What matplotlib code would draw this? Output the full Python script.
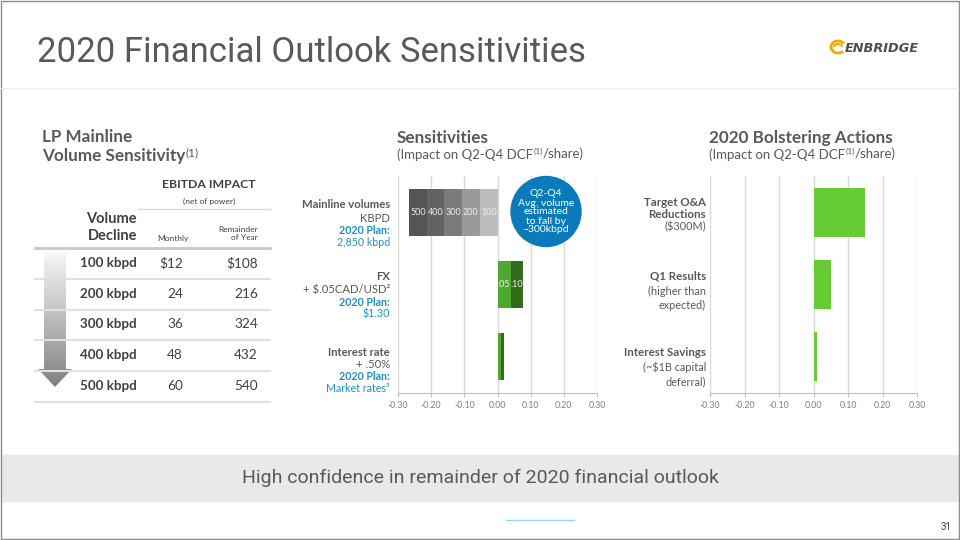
import matplotlib
matplotlib.use("Agg")
import matplotlib.pyplot as plt
import numpy as np
from matplotlib.patches import Rectangle, Circle, Polygon, Arc

# ---- data ----
table_volumes = ["100 kbpd", "200 kbpd", "300 kbpd", "400 kbpd", "500 kbpd"]
table_monthly = ["$12", "24", "36", "48", "60"]
table_remainder = ["$108", "216", "324", "432", "540"]

mainline_kbpd = [100, 200, 300, 400, 500]
mainline_impact = [-0.053, -0.107, -0.16, -0.213, -0.267]
mainline_colors = ["#bdbdbd", "#9a9a9a", "#7b7b7b", "#636363", "#555555"]

fx_labels = [".05", ".10"]
fx_impact = [0.04, 0.078]
rate_impact = [0.01, 0.02]

bolster_cats = ["Target O&A", "Q1 Results", "Interest Savings"]
bolster_impact = [0.15, 0.05, 0.01]

ticks = [-0.3, -0.2, -0.1, 0.0, 0.1, 0.2, 0.3]

GREY = "#595959"
DARK = "#404040"
BLUE = "#1f8fd0"
BODY = ["Lato", "DejaVu Sans"]
NARROW = ["Roboto", "DejaVu Sans"]

fig = plt.figure(figsize=(9.6, 5.4), dpi=100)
fig.patch.set_facecolor("white")


def style_axis(ax):
    ax.set_xlim(-0.3, 0.3)
    ax.set_ylim(2.5, -0.5)
    ax.set_xticks(ticks)
    ax.set_xticklabels(["%.2f" % t for t in ticks], fontsize=6.3, color="#7f7f7f",
                       family=BODY)
    ax.tick_params(axis="x", length=3, color="#bfbfbf", pad=3)
    ax.set_yticks([])
    for s in ["top", "left", "right"]:
        ax.spines[s].set_visible(False)
    ax.spines["bottom"].set_color("#bfbfbf")
    ax.grid(axis="x", color="#d9d9d9", lw=1)
    ax.set_axisbelow(True)
    ax.patch.set_alpha(0)


# ---- middle chart: sensitivities ----
axm = fig.add_axes([398 / 960, 1 - 393 / 540, 199 / 960, 217 / 540])
style_axis(axm)
prev = 0.0
for v, imp, c in zip(mainline_kbpd, mainline_impact, mainline_colors):
    axm.barh(0, imp - prev, left=prev, height=0.65, color=c)
    axm.text((imp + prev) / 2, 0, str(v), ha="center", va="center",
             fontsize=6.5, color="#ececec", family=BODY)
    prev = imp
fx_colors = ["#4ea72e", "#336b1d"]
prev = 0.0
for lab, imp, c in zip(fx_labels, fx_impact, fx_colors):
    axm.barh(1, imp - prev, left=prev, height=0.65, color=c)
    axm.text((imp + prev) / 2, 1, lab, ha="center", va="center",
             fontsize=6.5, color="#f0f0f0", family=BODY)
    prev = imp
prev = 0.0
for imp, c in zip(rate_impact, fx_colors):
    axm.barh(2, imp - prev, left=prev, height=0.65, color=c)
    prev = imp

# ---- right chart: bolstering actions ----
axr = fig.add_axes([710 / 960, 1 - 393 / 540, 207 / 960, 217 / 540])
style_axis(axr)
axr.barh(range(len(bolster_cats)), bolster_impact, height=0.68, color="#66cc33")

# ---- overlay in pixel coordinates ----
ov = fig.add_axes([0, 0, 1, 1], zorder=5)
ov.set_xlim(0, 960)
ov.set_ylim(540, 0)
ov.axis("off")
ov.patch.set_alpha(0)


def T(x, y, s, size=9, color=GREY, ha="left", weight="normal", fam=BODY, **kw):
    return ov.text(x, y, s, fontsize=size, color=color, ha=ha, va="center",
                   fontweight=weight, family=fam, **kw)


def after(art, s, size, color=GREY, weight="normal", raise_=0.0):
    # text glued to the right edge of a previous text artist
    return ov.annotate(s, xy=(1, 0.5 + raise_), xycoords=art, va="center",
                       ha="left", fontsize=size, color=color,
                       fontweight=weight, family=BODY)


# frame
ov.add_patch(Rectangle((0.5, 0.5), 958, 538, fill=False, ec="#8c8c8c", lw=1))
ov.plot([1, 958], [88, 88], color="#eeeeee", lw=1)

# title + logo
T(37, 53, "2020 Financial Outlook Sensitivities", size=25, color=GREY,
  fam=NARROW)
ov.add_patch(Arc((838, 47), 14, 12, theta1=40, theta2=330, color="#f5a800", lw=2))
ov.add_patch(Arc((838, 47), 8, 6, theta1=180, theta2=360, color="#f5a800", lw=1.5))
T(845, 49, "ENBRIDGE", size=9.3, color="#4d4d4d", weight="bold", style="italic",
  fam=["DejaVu Sans"])

# ---- left table ----
T(42, 137, "LP Mainline", size=12.3, weight="bold")
t = T(42, 156, "Volume Sensitivity", size=12.3, weight="bold")
after(t, "(1)", 8.5, raise_=0.2)
T(209, 185, "EBITDA IMPACT", size=8.8, weight="bold", ha="center", color=DARK)
T(209, 201, "(net of power)", size=6, ha="center", color=DARK)
ov.plot([138, 270], [209, 209], color="#d9d9d9", lw=1)
T(137, 219, "Volume", size=10.5, weight="bold", ha="right", color=DARK)
T(137, 236, "Decline", size=10.5, weight="bold", ha="right", color=DARK)
T(173, 238, "Monthly", size=6, ha="center", color=DARK)
T(258, 229, "Remainder", size=6, ha="right", color=DARK)
T(258, 238, "of Year", size=6, ha="right", color=DARK)
ov.plot([35, 270], [248, 248], color="#c8c8c8", lw=2)

row_y = 263
for vol, mon, rem in zip(table_volumes, table_monthly, table_remainder):
    T(137, row_y, vol, size=9.6, weight="bold", ha="right", color=DARK)
    T(183, row_y, mon, size=9.8, ha="right", color=DARK)
    T(258, row_y, rem, size=9.8, ha="right", color=DARK)
    ov.plot([35, 270], [row_y + 16, row_y + 16], color="#e0e0e0", lw=1.5)
    row_y += 30.7

# gradient arrow
arrow = Polygon([(44, 252), (66, 252), (66, 369), (72, 369), (55, 387),
                 (38, 369), (44, 369)], closed=True, fc="none", ec="none")
ov.add_patch(arrow)
grad = np.linspace(0.97, 0.5, 256).reshape(-1, 1)
im = ov.imshow(grad, cmap="gray", vmin=0, vmax=1, extent=(36, 74, 387, 252),
               aspect="auto", zorder=1)
im.set_clip_path(arrow)
ov.set_xlim(0, 960)
ov.set_ylim(540, 0)

# ---- middle labels ----
T(397, 138, "Sensitivities", size=12.3, weight="bold")
t = T(397, 155, "(Impact on Q2-Q4 DCF", size=9.5)
t = after(t, "(1)", 6, raise_=0.3)
after(t, "/share)", 9.5, raise_=-0.3)
T(390, 205, "Mainline volumes", size=8.1, weight="bold", ha="right")
T(390, 218, "KBPD", size=8.1, ha="right")
T(390, 231, "2020 Plan:", size=7.7, weight="bold", ha="right", color=BLUE)
T(390, 242, "2,850 kbpd", size=7.7, ha="right", color=BLUE)
T(390, 277, "FX", size=8.1, weight="bold", ha="right")
T(390, 290, "+ $.05CAD/USD²", size=8.1, ha="right")
T(390, 303, "2020 Plan:", size=7.7, weight="bold", ha="right", color=BLUE)
T(390, 314, "$1.30", size=7.7, ha="right", color=BLUE)
T(390, 353, "Interest rate", size=8.1, weight="bold", ha="right")
T(390, 365, "+ .50%", size=8.1, ha="right")
T(390, 377, "2020 Plan:", size=7.7, weight="bold", ha="right", color=BLUE)
T(390, 388, "Market rates³", size=7.7, ha="right", color=BLUE)

ov.add_patch(Circle((546, 211.5), 35, color="#0a7abb", zorder=3))
ov.text(546, 212, "Q2-Q4\nAvg. volume\nestimated\nto fall by\n~300kbpd",
        fontsize=7.5, color="white", ha="center", va="center", linespacing=1.0,
        family=BODY, zorder=4)

# ---- right labels ----
T(709, 138, "2020 Bolstering Actions", size=12.3, weight="bold")
t = T(709, 155, "(Impact on Q2-Q4 DCF", size=9.5)
t = after(t, "(1)", 6, raise_=0.3)
after(t, "/share)", 9.5, raise_=-0.3)
T(706, 202, "Target O&A", size=8.3, weight="bold", ha="right")
T(706, 214, "Reductions", size=8.3, weight="bold", ha="right")
T(706, 227, "($300M)", size=7.8, ha="right")
T(706, 276, "Q1 Results", size=8.3, weight="bold", ha="right")
T(706, 291, "(higher than", size=7.8, ha="right")
T(706, 305, "expected)", size=7.8, ha="right")
T(706, 353, "Interest Savings", size=8.3, weight="bold", ha="right")
T(706, 367, "(~$1B capital", size=7.8, ha="right")
T(706, 382, "deferral)", size=7.8, ha="right")

# ---- bottom banner ----
ov.add_patch(Rectangle((1, 455), 957, 46, color="#e8e9e9", zorder=0))
T(480, 478, "High confidence in remainder of 2020 financial outlook", size=14,
  ha="center", fam=NARROW)
ov.plot([506, 574], [520, 520], color="#8fdcf2", lw=1)
T(952, 527, "31", size=7, ha="right", color=DARK, fam=NARROW)

fig.savefig("out.png", dpi=100)
